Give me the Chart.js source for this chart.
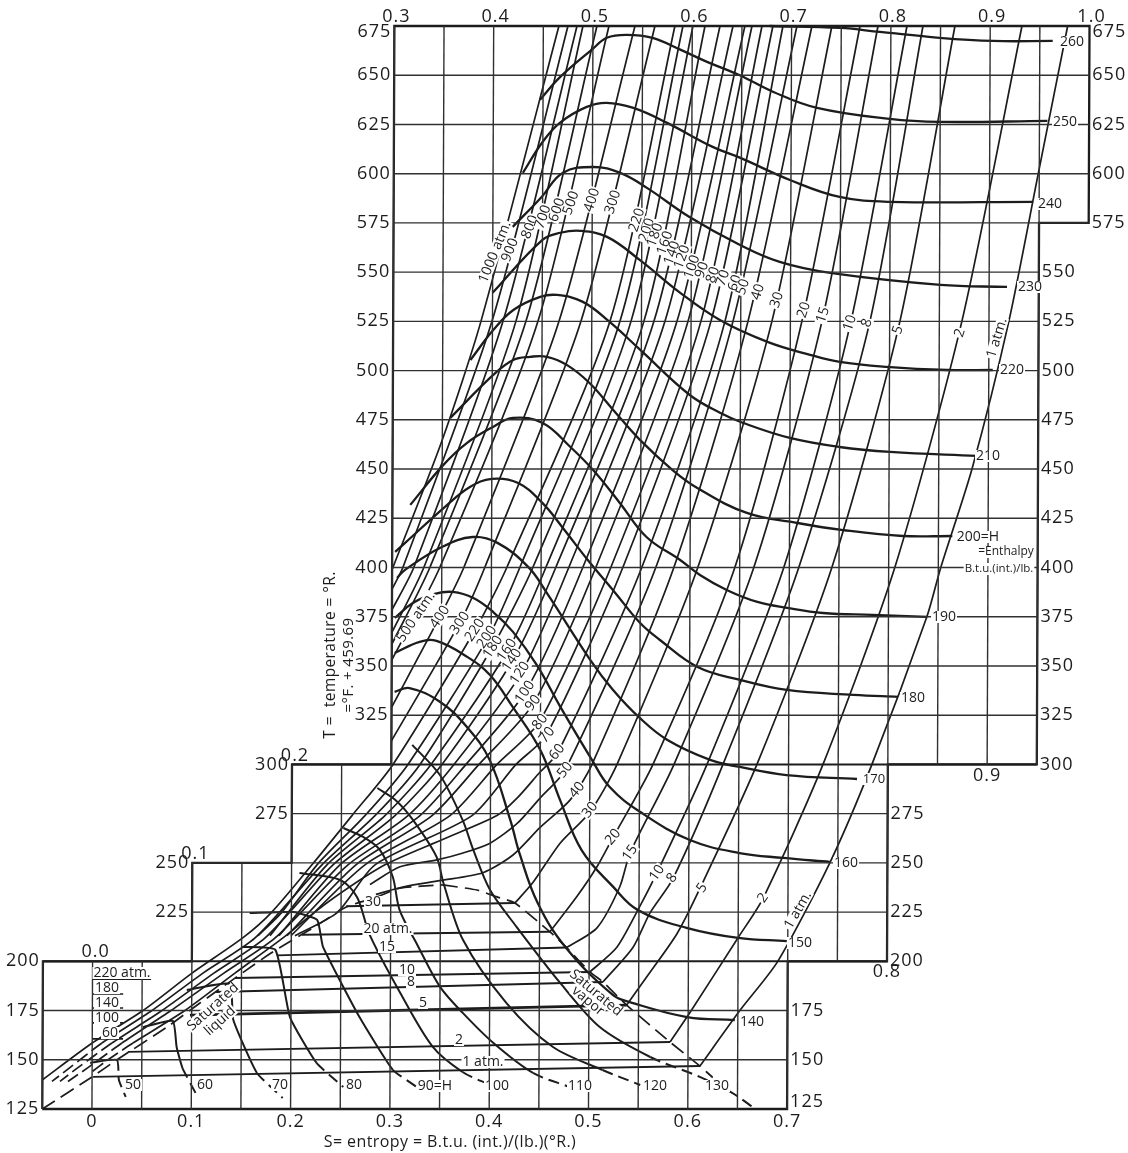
<!DOCTYPE html>
<html>
<head>
<meta charset="utf-8">
<title>T-S diagram</title>
<script src="https://cdn.jsdelivr.net/npm/chart.js@4/dist/chart.umd.min.js"></script>
<style>
  html, body { margin: 0; padding: 0; background: #fff; }
  canvas { display: block; }
</style>
</head>
<body>
<canvas id="ts-chart" width="1128" height="1153"></canvas>
<script>
// every curve is [S, T]
// isobars, atm
const iso_1000 = [[.4657,675],[.3884,525],[.3494,464],[.30,399]];
const iso_900 = [[.4748,675],[.3995,525],[.3108,400],[.30,389]];
const iso_800 = [[.4839,675],[.4106,525],[.3218,400],[.30,378.5]];
const iso_700 = [[.4899,675],[.4236,525],[.3319,400],[.30,367]];
const iso_600 = [[.504,675],[.4337,525],[.338,400],[.30,361]];
const iso_500 = [[.5161,675],[.4458,525],[.348,400],[.30,353]];
const iso_400 = [[.5423,675],[.467,525],[.3722,400],[.3482,375],[.30,329]];
const iso_300 = [[.5624,675],[.4891,525],[.3933,400],[.3684,372],[.30,312]];
const iso_220 = [[.5825,675],[.5183,525],[.4155,400],[.3834,368],[.3017,300],[.2606,274],[.2205,249],[.1803,225],[.1514,212],[.1002,194],[.051,175],[0,158.5],[-.0495,140]];
const iso_200 = [[.5906,675],[.5284,525],[.4286,400],[.3976,365],[.3168,300],[.2737,274],[.2256,249],[.1905,225],[.1665,213]];
const iso_180 = [[.6007,675],[.5395,525],[.4417,400],[.4017,360],[.3289,300],[.2838,274],[.2306,249],[.1638,212],[.1112,194],[.06,175],[.0098,158.5],[-.0224,146],[-.0404,139]];
const iso_160 = [[.6128,675],[.5525,525],[.4548,400],[.4169,358],[.34,300],[.2938,274],[.2356,249],[.1786,213]];
const iso_140 = [[.6279,675],[.5626,525],[.4648,400],[.4219,353],[.351,300],[.3039,274],[.2417,249],[.1739,212],[.1222,194],[.0701,175],[.0198,158.5],[-.0143,146],[-.0323,139]];
const iso_120 = [[.641,675],[.5737,525],[.4779,400],[.43,346],[.3631,300],[.317,274],[.2487,249],[.1876,213]];
const iso_100 = [[.653,675],[.5858,525],[.492,400],[.4349,337],[.3752,300],[.3291,274],[.2568,249],[.184,212],[.1323,194],[.0792,175],[.0299,158.5],[-.0042,146],[-.0243,139]];
const iso_90 = [[.6601,675],[.5969,525],[.5051,400],[.4429,331],[.3883,300],[.3412,274],[.2648,249],[.1957,213]];
const iso_80 = [[.6702,675],[.6099,525],[.5202,400],[.4494,322],[.4064,300],[.3593,274],[.2739,249],[.1997,213]];
const iso_70 = [[.6812,675],[.62,525],[.5323,400],[.4562,315],[.4256,300],[.3815,274],[.284,249],[.2467,225],[.2037,213]];
const iso_60 = [[.6913,675],[.6341,525],[.5514,400],[.4677,306],[.4496,296],[.427,283],[.4066,274],[.3525,262],[.294,249],[.2338,229],[.192,212],[.1434,194],[.0932,175],[.041,158.5],[.016,150],[0,144]];
const iso_50 = [[.7054,675],[.6422,525],[.5655,400],[.4749,297],[.4501,283],[.427,270],[.3998,260],[.3726,255],[.3464,251.5],[.3092,248],[.279,239]];
const iso_40 = [[.7205,675],[.6573,525],[.5837,400],[.5021,300],[.4803,282],[.4501,268],[.4229,254],[.3927,245],[.3494,241],[.3142,238],[.285,234]];
const iso_30 = [[.7406,675],[.6814,525],[.6078,400],[.5273,300],[.5005,276],[.4703,260],[.4431,240],[.425,229.6]];
const iso_20 = [[.7689,675],[.7116,525],[.6451,400],[.5635,300],[.5226,262],[.5075,248],[.4876,233],[.4605,215]];
const iso_15 = [[.787,675],[.7318,525],[.6642,400],[.5847,300],[.5408,255],[.5307,238],[.5078,217],[.4775,207]];
const iso_10 = [[.8162,675],[.761,525],[.6944,400],[.6179,300],[.568,245],[.5478,225],[.5277,207],[.5009,194.6]];
const iso_8 = [[.8323,675],[.7801,525],[.7095,400],[.634,300],[.5841,242],[.561,224.5],[.5441,207],[.514,189.5]];
const iso_5 = [[.8645,675],[.8103,525],[.7428,400],[.6682,300],[.6113,237],[.5884,214],[.558,192],[.538,177.8]];
const iso_2 = [[.932,675],[.8727,525],[.8062,400],[.7347,300],[.6749,232],[.6499,212],[.6018,174],[.5818,159]];
const iso_1 = [[.978,675],[.949,600],[.92,525],[.8835,450],[.8525,400],[.8387,375],[.784,300],[.742,250],[.69,200],[.652,175],[.612,146.8]];

// flat parts of the isobars across the two phase region
const tie_30 = [[.2552,228],[.425,229.6]];
const tie_20 = [[.2108,213.5],[.4605,215]];
const tie_15 = [[.1859,203],[.4775,207]];
const tie_10 = [[.1434,191.5],[.5009,194.6]];
const tie_8 = [[.1244,184.4],[.514,189.5]];
const tie_5 = [[.0983,172.7],[.538,177.8]];
const tie_2 = [[.036,154],[.5818,159]];
const tie_1 = [[.001,141.3],[.612,146.8]];

// enthalpy lines, Btu/lb
const h_260 = [[.678,675],[.749,674],[.789,672],[.849,669],[.903,667.4],[.963,667.4]];
const h_250 = [[.447,637.5],[.467,649],[.499,663],[.514,669],[.534,670.5],[.56,669],[.588,663],[.615,656.8],[.648,650],[.682,641.5],[.726,633.4],[.799,627.8],[.85,626.3],[.958,626.8]];
const h_240 = [[.43,600.4],[.449,615.6],[.467,625.8],[.494,633.9],[.514,636],[.541,633.4],[.575,625.8],[.621,613.6],[.649,608],[.699,596.8],[.749,588.2],[.8,585.7],[.944,585.7]];
const h_230 = [[.42,573],[.449,588.2],[.47,600.4],[.501,603.4],[.528,600.4],[.555,592.8],[.598,578],[.649,563.8],[.689,555.2],[.74,549.6],[.851,543.5],[.918,542.5]];
const h_220 = [[.4,539.5],[.45,566.4],[.468,570],[.488,571],[.515,567.9],[.548,556.2],[.589,539.5],[.629,525.7],[.677,514.6],[.72,508],[.75,504.4],[.797,501.9],[.858,500.3],[.904,500.3]];
const h_210 = [[.378,505.4],[.401,520.7],[.421,530.8],[.448,537.4],[.465,538.4],[.491,534.9],[.518,524.7],[.549,510.5],[.599,487.6],[.63,478.5],[.653,473.4],[.7,465.8],[.75,461.2],[.801,458.7],[.888,456.7]];
const h_200 = [[.358,476],[.401,497.8],[.421,505.4],[.438,507],[.455,507],[.475,502.9],[.498,493.7],[.522,480],[.549,464.8],[.582,449.5],[.607,440.4],[.657,427.7],[.708,422.6],[.754,419],[.814,416],[.864,416]];
const h_190 = [[.318,431.8],[.351,452],[.375,463.3],[.401,471.4],[.421,476],[.451,473.4],[.479,461.2],[.502,449.5],[.529,432.8],[.556,415.5],[.59,403.8],[.61,396.2],[.637,388.6],[.668,382.5],[.698,379.5],[.734,376.9],[.784,375.9],[.839,374.9]];
const h_180 = [[.303,407.9],[.313,412.5],[.353,430.8],[.378,440.9],[.4,445],[.426,443],[.451,432.8],[.471,420.6],[.497,403.8],[.524,387.6],[.55,371.8],[.57,363.2],[.608,349.5],[.651,342.9],[.698,337.8],[.765,335.3],[.81,334.3]];
const h_170 = [[.305,394.7],[.313,398.8],[.35,410.4],[.381,415.5],[.406,412.5],[.437,400.3],[.456,387],[.5,353],[.523,337.8],[.55,323.6],[.578,312.4],[.621,302.3],[.651,298.7],[.698,294.6],[.769,292.6]];
const h_160 = [[.303,374.4],[.321,382],[.343,386.6],[.361,387.6],[.382,384.5],[.402,377.4],[.422,367.3],[.446,350.5],[.47,329.2],[.502,302.3],[.52,288.5],[.551,275.8],[.601,261.6],[.651,255],[.695,252.5],[.742,250.5]];
const h_150 = [[.303,356.6],[.328,362.2],[.345,362.7],[.376,354.6],[.399,345.4],[.422,329.2],[.45,307.3],[.47,282],[.492,256.5],[.524,237.8],[.549,226],[.598,217],[.65,211.9],[.699,210.3]];
const h_140 = [[.303,336.8],[.318,338.8],[.349,331.7],[.376,319],[.399,302.3],[.42,271.8],[.43,254],[.448,229.6],[.476,207.3],[.524,182.9],[.541,179.3],[.599,171.7],[.647,170.2]];
const h_130 = [[.321,309.9],[.349,294.6],[.372,271.8],[.383,256.5],[.4,236.2],[.427,217.4],[.471,189],[.511,166.6],[.562,151.4],[.612,141.3],[.645,133.1],[.668,125]];
const h_120 = [[.286,288],[.304,282],[.322,271.8],[.346,253],[.353,239.8],[.373,210.8],[.417,178.8],[.464,156.5],[.514,144.8],[.552,137.2]];
const h_110 = [[.252,267.7],[.274,262.6],[.289,256.5],[.302,242.8],[.309,226],[.327,208.3],[.35,187],[.373,173.8],[.404,158.5],[.444,143.3],[.481,136.2]];
const h_100 = [[.208,244.9],[.249,241.3],[.266,232.7],[.279,213.4],[.31,183.9],[.343,156.5],[.373,143.8],[.401,137.2]];
const h_90 = [[.158,224.5],[.202,225],[.226,221],[.232,207.3],[.269,171.7],[.303,144.8],[.327,136.2]];
const h_80 = [[.151,207.3],[.184,205.8],[.199,171.7],[.226,148.4],[.253,136.2]];
const h_70 = [[.095,185.4],[.138,188.5],[.142,170.2],[.166,143.3],[.192,130.6]];
const h_60 = [[.051,166.6],[.081,169.7],[.085,156.5],[.091,145.8],[.107,130.6]];
const h_50 = [[-.002,148.4],[.025,149.9],[.027,139.7],[.034,131.1]];

const sat_liquid = [[-.05,125],[0,141.3],[.025,150],[.0752,166.6],[.1083,178.8],[.1797,204.2],[.2232,217.4],[.2552,227.6],[.2861,232.7],[.3092,237.2],[.3525,238.8]];
const sat_vapor = [[.3525,238.8],[.3868,236.2],[.407,232.7],[.425,229.6],[.4605,214.9],[.4775,206.8],[.5009,194.6],[.514,189.5],[.538,177.8],[.5818,159],[.612,146.8],[.625,141]];

// the leader rules under the low pressure labels
const leader_220 = [[0,191],[.059,191]];
const leader_180 = [[0,183.4],[.031,183.4]];
const leader_140 = [[0,176.3],[.031,176.3]];
const leader_100 = [[0,168.7],[.031,168.7]];
const leader_60 = [[0,160.6],[.031,160.6]];

// the axes step up the chart
const t_left = [[-.05,[125,150,175,200]],[.1,[225,250]],[.2,[275,300]],[.3,[325,350,375,400,425,450,475,500,525,550,575,600,625,650,675]]];
const t_right = [[.7,[125,150,175]],[.8,[200,225,250,275]],[.95,[300,325,350,375,400,425,450,475,500,525,550]],[1,[575,600,625,650,675]]];
const s_bottom = [0,.1,.2,.3,.4,.5,.6,.7];
const s_top = [.3,.4,.5,.6,.7,.8,.9,1];
const s_steps = [[0,200,"0.0"],[.1,250,"0.1"],[.2,300,"0.2"]];
const s_under = [[.8,200,"0.8"],[.9,300,"0.9"]];

const frame = [[-.05,125],[.7,125],[.7,200],[.8,200],[.8,300],[.95,300],[.95,575],[1,575],[1,675],[.3,675],[.3,300],[.2,300],[.2,250],[.1,250],[.1,200],[-.05,200],[-.05,125]];
const s_lines = [[-.05,125,200],[0,125,200],[.05,125,200],[.1,125,250],[.15,125,250],[.2,125,300],[.25,125,300],[.3,125,675],[.35,125,675],[.4,125,675],[.45,125,675],[.5,125,675],[.55,125,675],[.6,125,675],[.65,125,675],[.7,125,675],[.75,200,675],[.8,200,675],[.85,300,675],[.9,300,675],[.95,300,675]];
const t_lines = [[150,-.05,.7],[175,-.05,.7],[225,.1,.8],[250,.1,.8],[275,.2,.8],[325,.3,.95],[350,.3,.95],[375,.3,.95],[400,.3,.95],[425,.3,.95],[450,.3,.95],[475,.3,.95],[500,.3,.95],[525,.3,.95],[550,.3,.95],[575,.3,1],[600,.3,1],[625,.3,1],[650,.3,1]];

// text on the curves, as placed on the page: text, x, y, angle, optional size
const curve_labels = [
  ["1000 atm.",495,252,-68],["900",510,250,-68],["800",530,227,-68],["700",543,217,-70],["600",557,210,-70],["500",571,203,-70],["400",592,200,-72],["300",613,202,-72],
  ["220",637,220,-72],["200",647,230,-72],["180",655,235,-70],["160",665,243,-70],["140",672,253,-70],["120",682,257,-70],["100",692,267,-70],["90",702,270,-70],["80",713,275,-70],["70",723,278,-70],["60",735,283,-70],
  ["50",743,287,-72],["40",758,292,-72],["30",777,300,-72],["20",804,310,-72],["15",823,315,-72],["10",850,323,-72],["8",867,323,-72],["5",898,330,-72],["2",960,333,-72],["1 atm.",997,338,-73],
  ["500 atm.",416,617,-56],["400",440,617,-56],["300",460,623,-56],["220",475,630,-56],["200",487,637,-56],["180",493,647,-56],["160",507,650,-56],["140",512,660,-56],["120",520,673,-56],["100",525,692,-56],["90",533,703,-52],["80",540,722,-52],["70",547,735,-52],["60",557,752,-52],["50",565,770,-52],["40",577,790,-50],["30",590,810,-50],["20",613,837,-50],["15",630,853,-55],["10",657,873,-55],["8",672,878,-55],["5",702,888,-55],["2",763,898,-55],["1 atm.",798,910,-60],
  ["30",373,902,0],["20 atm.",388,929,0],["15",387,947,0],["10",407,970,0],["8",411,982,0],["5",423,1003,0],["2",459,1040,0],["1 atm.",483,1062,0],
  ["50",133,1085,0],["60",205,1085,0],["70",280,1085,0],["80",354,1085,0],["90=H",435,1086,0],["100",497,1086,0],["110",580,1086,0],["120",655,1086,0],["130",717,1086,0],
  ["140",752,1022,0],["150",800,943,0],["160",846,863,0],["170",874,779,0,13],["180",913,698,0],["190",944,617,0],["200=H",978,537,0],["=Enthalpy",1006,552,0,12],["B.t.u.(int.)/lb.",999,569,0,11.5],["210",988,456,0],["220",1012,370,0],["230",1030,287,0],["240",1050,204,0],["250",1065,122,0],["260",1072,42,0],
  ["220 atm.",122,973,0],["180",107,988,0],["140",107,1003,0],["100",107,1018,0],["60",110,1033,0],
  ["Saturated",213,1007,-42],["liquid",220,1021,-42],["Saturated",596,993,40],["vapor",588,1001,40]
];

const INK = "#1c1c1c";
const SKEW = 0.00417; // the scan leans a little to the right going up
const FONT = '"Open Sans", sans-serif';
const BASE_Y = 1109;

function toPoints(pts){
    return pts.map(p => ({x: p[0], y: p[1]}));
}

function curve(pts, opts){
    return Object.assign({
        data: toPoints(pts),
        showLine: true,
        pointRadius: 0,
        borderColor: INK,
        backgroundColor: INK,
        borderWidth: 1.7,
        tension: 0,
        clip: false,
    }, opts);
}

var datasets = [];

s_lines.forEach(l => datasets.push(curve([[l[0],l[1]],[l[0],l[2]]], {borderWidth: 1.4, borderColor: "#303030"})));
t_lines.forEach(l => datasets.push(curve([[l[1],l[0]],[l[2],l[0]]], {borderWidth: 1.4, borderColor: "#303030"})));
[[200,-.05,.8],[300,.2,.95]].forEach(l => datasets.push(curve([[l[1],l[0]],[l[2],l[0]]], {borderWidth: 2})));
datasets.push(curve(frame, {borderWidth: 2.3}));

const dash_low = {borderDash: ctx => ctx.p0.parsed.x < .055 ? [13,5] : undefined};
const isobars = [iso_1000,iso_900,iso_800,iso_700,iso_600,iso_500,iso_400,iso_300,iso_220,iso_200,iso_160,iso_120,iso_90,iso_80,iso_70,iso_50,iso_40,iso_30,iso_20,iso_15,iso_10,iso_8,iso_5,iso_2,iso_1];
isobars.forEach(pts => datasets.push(curve(pts, {tension: .25})));
[iso_180,iso_140,iso_100,iso_60].forEach(pts => datasets.push(curve(pts, {tension: .25, segment: dash_low})));

[tie_30,tie_20,tie_15,tie_10,tie_8,tie_2,tie_1].forEach(pts => datasets.push(curve(pts, {borderWidth: 1.9})));
datasets.push(curve(tie_5, {borderWidth: 2.8}));
[leader_220,leader_180,leader_140,leader_100,leader_60].forEach(pts => datasets.push(curve(pts)));

// below the 1 atm. line the enthalpy lines go dashed
const dash_cold = {borderDash: ctx => ctx.p1.parsed.y < 143 ? [11,6] : undefined};
[h_260,h_250,h_240,h_230,h_220,h_210,h_200,h_190,h_180,h_170,h_160,h_150,h_140].forEach(pts => datasets.push(curve(pts, {tension: .4, borderWidth: 2.3})));
[h_130,h_120,h_110,h_100].forEach(pts => datasets.push(curve(pts, {tension: .3, borderWidth: 2, segment: dash_cold})));
[h_90,h_80,h_70,h_60,h_50].forEach(pts => datasets.push(curve(pts, {tension: .15, borderWidth: 2, segment: dash_cold})));

[sat_liquid,sat_vapor].forEach(pts => datasets.push(curve(pts, {tension: .2, borderDash: [15,7]})));

function text(ctx, str, x, y, size, align, spacing){
    ctx.font = size + "px " + FONT;
    ctx.letterSpacing = (spacing || 0) + "px";
    ctx.textAlign = align;
    ctx.textBaseline = "middle";
    ctx.fillStyle = INK;
    ctx.fillText(str, x, y);
    ctx.letterSpacing = "0px";
}

const skewPlugin = {
    id: "skew",
    beforeDatasetsDraw(chart){
        chart.ctx.save();
        chart.ctx.transform(1, 0, -SKEW, 1, SKEW * BASE_Y, 0);
    },
    afterDatasetsDraw(chart){
        chart.ctx.restore();
    },
};

const labelPlugin = {
    id: "chart-labels",
    afterDraw(chart){
        const ctx = chart.ctx;
        const sx = chart.scales.x;
        const ty = chart.scales.y;
        const px = (s, t) => sx.getPixelForValue(s) + SKEW * (BASE_Y - ty.getPixelForValue(t));

        t_left.forEach(g => g[1].forEach(t => {
            let dy = t == 675 ? 6 : 0;
            text(ctx, String(t), px(g[0], t) - 3, ty.getPixelForValue(t) + dy, 18, "right", 1);
        }));
        t_right.forEach(g => g[1].forEach(t => {
            let dy = t == 675 ? 6 : (t == 125 ? -7 : 0);
            text(ctx, String(t), px(g[0], t) + 3, ty.getPixelForValue(t) + dy, 18, "left", 1);
        }));
        s_bottom.forEach(s => text(ctx, s == 0 ? "0" : s.toFixed(1), px(s, 125), 1122, 18, "center", 1));
        s_top.forEach(s => text(ctx, s.toFixed(1), px(s, 675) + 2, 17, 18, "center", 1));
        s_steps.forEach(l => text(ctx, l[2], px(l[0], l[1]) + 3, ty.getPixelForValue(l[1]) - 9, 18, "center", 1));
        s_under.forEach(l => text(ctx, l[2], px(l[0], l[1]), ty.getPixelForValue(l[1]) + 11, 18, "center", 1));

        curve_labels.forEach(l => {
            const size = l[4] || 14;
            ctx.save();
            ctx.translate(l[1], l[2]);
            ctx.rotate(l[3] * Math.PI / 180);
            ctx.font = size + "px " + FONT;
            const w = ctx.measureText(l[0]).width;
            ctx.fillStyle = "#fff";
            ctx.fillRect(-w / 2 - 1, -6, w + 2, 12);
            text(ctx, l[0], 0, 0, size, "center");
            ctx.restore();
        });

        text(ctx, "S= entropy = B.t.u. (int.)/(lb.)(°R.)", 450, 1142, 16, "center", .4);
        ctx.save();
        ctx.translate(331, 655);
        ctx.rotate(-Math.PI / 2);
        text(ctx, "T =  temperature = °R.", 0, 0, 15.5, "center", .4);
        ctx.restore();
        ctx.save();
        ctx.translate(349, 665);
        ctx.rotate(-Math.PI / 2);
        text(ctx, "=°F. + 459.69", 0, 0, 15, "center", .4);
        ctx.restore();
    },
};

new Chart(document.getElementById("ts-chart").getContext("2d"), {
    type: "scatter",
    data: {datasets: datasets},
    options: {
        responsive: false,
        animation: false,
        events: [],
        layout: {padding: {left: 42.3, right: 43, top: 26, bottom: 44}},
        plugins: {legend: {display: false}, tooltip: {enabled: false}},
        scales: {
            x: {type: "linear", min: -.05, max: 1, display: false},
            y: {type: "linear", min: 125, max: 675, display: false},
        },
    },
    plugins: [skewPlugin, labelPlugin],
});
</script>
</body>
</html>
